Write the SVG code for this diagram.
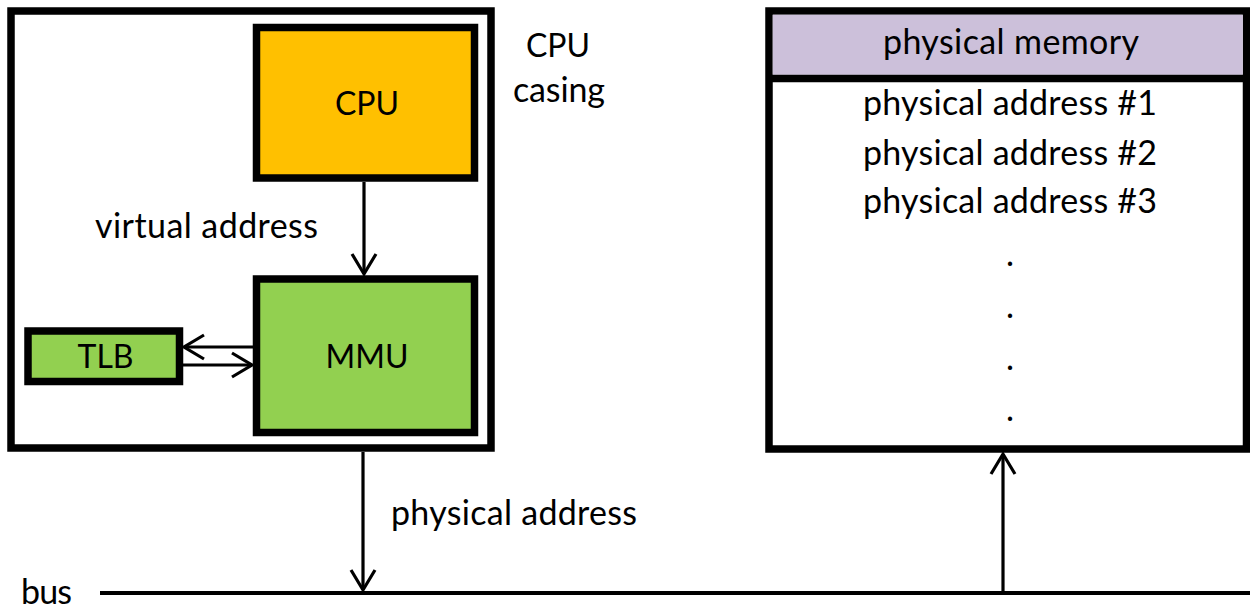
<svg xmlns="http://www.w3.org/2000/svg" width="1250" height="609" viewBox="0 0 1250 609">
<style>
.box{stroke:#000;stroke-width:7.5}
.t{font-family:Lato,"Liberation Sans",sans-serif;font-size:34px;fill:#000}
.k{font-family:Lato,"Liberation Sans",sans-serif;font-size:32px;fill:#000;text-anchor:middle}
.c{stroke:#000;stroke-width:3.2;fill:none}
</style>
<defs>
<marker id="arr" viewBox="-24 -15 28 30" markerWidth="28" markerHeight="30" refX="0" refY="0" markerUnits="userSpaceOnUse" orient="auto">
<path d="M-20,-12 L0,0 L-20,12" fill="none" stroke="#000" stroke-width="3.2"/>
</marker>
</defs>
<rect width="1250" height="609" fill="#fff"/>
<g id="casing">
<rect class="box" x="11" y="11" width="480" height="437" fill="#fff"/>
<text class="k" x="558" y="57">CPU</text>
<text class="t" x="513" y="102" textLength="92">casing</text>
</g>
<g id="cpu">
<rect class="box" x="256.5" y="27.5" width="218" height="150.5" fill="#FFC000"/>
<text class="k" x="367" y="115">CPU</text>
</g>
<g id="mmu">
<rect class="box" x="256.5" y="279" width="218" height="153.5" fill="#92D050"/>
<text class="k" x="367" y="368">MMU</text>
</g>
<g id="tlb">
<rect class="box" x="28" y="331" width="151.5" height="50.5" fill="#92D050"/>
<text class="k" x="105.5" y="368">TLB</text>
</g>
<g id="memory">
<rect class="box" x="769" y="11" width="477.5" height="438" fill="#fff"/>
<rect x="772.75" y="14.75" width="470" height="60" fill="#CCC0DA"/>
<line class="box" x1="769" y1="78.5" x2="1246.5" y2="78.5"/>
<text class="t" x="883" y="54" textLength="256">physical memory</text>
<text class="t" x="863" y="115" textLength="294">physical address #1</text>
<text class="t" x="863" y="165" textLength="294">physical address #2</text>
<text class="t" x="863" y="213" textLength="294">physical address #3</text>
<text class="t" x="1010" y="266" text-anchor="middle">.</text>
<text class="t" x="1010" y="318" text-anchor="middle">.</text>
<text class="t" x="1010" y="370" text-anchor="middle">.</text>
<text class="t" x="1010" y="421" text-anchor="middle">.</text>
</g>
<g id="bus">
<line x1="100" y1="593" x2="1250" y2="593" stroke="#000" stroke-width="4"/>
<text class="t" x="21" y="604" textLength="51">bus</text>
</g>
<g id="connectors">
<line class="c" x1="364" y1="182" x2="364" y2="274" marker-end="url(#arr)"/>
<line class="c" x1="253" y1="347" x2="184" y2="347" marker-end="url(#arr)"/>
<line class="c" x1="183" y1="365" x2="252" y2="365" marker-end="url(#arr)"/>
<line class="c" x1="363" y1="452" x2="363" y2="590" marker-end="url(#arr)"/>
<line class="c" x1="1003" y1="592" x2="1003" y2="454" marker-end="url(#arr)"/>
<text class="t" x="95" y="238" textLength="223">virtual address</text>
<text class="t" x="391" y="525" textLength="246">physical address</text>
</g>
</svg>
